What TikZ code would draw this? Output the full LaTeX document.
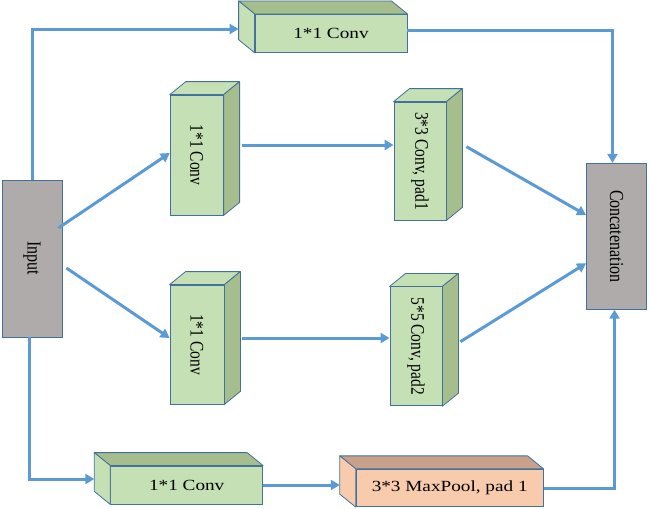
\documentclass[tikz,border=0pt]{standalone}
\usepackage{fontspec}
\setmainfont{Liberation Serif}
\usepackage{graphicx}
\usetikzlibrary{arrows.meta}

\definecolor{CajaVerde}{HTML}{C5E0B4}
\definecolor{VerdeOscuro}{HTML}{A6BD8E}
\definecolor{Salmon}{HTML}{F8CBAD}
\definecolor{SalmonOscuro}{HTML}{C9A089}
\definecolor{Gris}{HTML}{AFABAB}
\definecolor{Borde}{HTML}{41719C}
\definecolor{Flecha}{HTML}{5B9BD5}

% texto ensanchado como en la figura original
\newcommand{\textoH}[1]{\scalebox{1.24}[1]{#1}}
\newcommand{\textoV}[1]{\rotatebox{-90}{\scalebox{1}[1.24]{#1}}}

\tikzset{
  caja/.style={draw=Borde, line width=0.8pt, fill=CajaVerde, inner sep=0pt,
    font=\fontsize{15.5}{18}\selectfont},
  cara/.style={draw=Borde, line width=0.8pt, line join=round},
  flecha/.style={draw=Flecha, line width=3pt,
    -{Triangle[length=9pt,width=10pt]}},
}

\begin{document}
\begin{tikzpicture}[x=1pt,y=-1pt]
\useasboundingbox (0,0) rectangle (649,509);

% Entrada y salida
\node[caja, fill=Gris, font=\fontsize{16}{19}\selectfont, minimum width=60pt, minimum height=157pt] (entrada) at (32,258.5) {\textoV{Input}};
\node[caja, fill=Gris, font=\fontsize{16}{19}\selectfont, minimum width=60pt, minimum height=146pt] (concat) at (616.5,236.3) {\textoV{Concatenation}};

% Bloques horizontales
\node[caja, minimum width=152pt, minimum height=38pt] (convA) at (331,33.3) {\textoH{1*1 Conv}};
\node[caja, minimum width=152pt, minimum height=38pt] (convD) at (186.7,485) {\textoH{1*1 Conv}};
\node[caja, fill=Salmon, minimum width=187pt, minimum height=37.5pt] (pool) at (449.7,488) {\textoH{3*3 MaxPool, pad 1}};

% Bloques verticales
\node[caja, minimum width=53pt, minimum height=120pt] (convB) at (196.7,155) {\textoV{1*1 Conv}};
\node[caja, minimum width=52pt, minimum height=118pt] (conv3) at (420,161) {\textoV{3*3 Conv, pad1}};
\node[caja, minimum width=54pt, minimum height=119pt] (convC) at (197,344.5) {\textoV{1*1 Conv}};
\node[caja, minimum width=52pt, minimum height=119pt] (conv5) at (416,346.3) {\textoV{5*5 Conv, pad2}};

% Caras de profundidad (hacia arriba a la izquierda)
\foreach \n/\techo/\costado in {convA/VerdeOscuro/CajaVerde, convD/VerdeOscuro/CajaVerde, pool/SalmonOscuro/Salmon} {
  \filldraw[cara, fill=\techo] (\n.north west) -- ++(-16,-13) -- ([shift={(-16pt,13pt)}]\n.north east) -- (\n.north east) -- cycle;
  \filldraw[cara, fill=\costado] (\n.north west) -- ++(-16,-13) -- ([shift={(-16pt,13pt)}]\n.south west) -- (\n.south west) -- cycle;
}
% Caras de profundidad (hacia arriba a la derecha)
\foreach \n in {convB, conv3, convC, conv5} {
  \filldraw[cara, fill=CajaVerde] (\n.north west) -- ++(16,-13) -- ([shift={(16pt,13pt)}]\n.north east) -- (\n.north east) -- cycle;
  \filldraw[cara, fill=VerdeOscuro] (\n.north east) -- ++(16,-13) -- ([shift={(16pt,13pt)}]\n.south east) -- (\n.south east) -- cycle;
}

% Flechas
\draw[flecha] (entrada.north) |- ([shift={(-16pt,4.3pt)}]convA.west);
\draw[flecha] ([yshift=3.3pt]convA.east) -| ([xshift=-4pt]concat.north);
\draw[flecha] ([xshift=-4pt,yshift=30.5pt]entrada.east) -- ([yshift=2pt]convB.west);
\draw[flecha] ([xshift=4pt,yshift=-9.5pt]entrada.east) -- ([yshift=6.5pt]convC.west);
\draw[flecha] ([xshift=18pt,yshift=10pt]convB.east) -- ([yshift=16pt]conv3.west);
\draw[flecha] ([xshift=20pt,yshift=14.3pt]conv3.east) -- ([yshift=21.3pt]concat.west);
\draw[flecha] ([xshift=18pt,yshift=6.5pt]convC.east) -- ([yshift=8.3pt]conv5.west);
\draw[flecha] ([xshift=18pt,yshift=4.6pt]conv5.east) -- ([yshift=-27pt]concat.west);
\draw[flecha] ([xshift=-3pt]entrada.south) |- ([shift={(-16pt,6pt)}]convD.west);
\draw[flecha] (convD.east) -- ([shift={(-16pt,3pt)}]pool.west);
\draw[flecha] (pool.east) -| ([xshift=-2pt]concat.south);

\end{tikzpicture}
\end{document}
